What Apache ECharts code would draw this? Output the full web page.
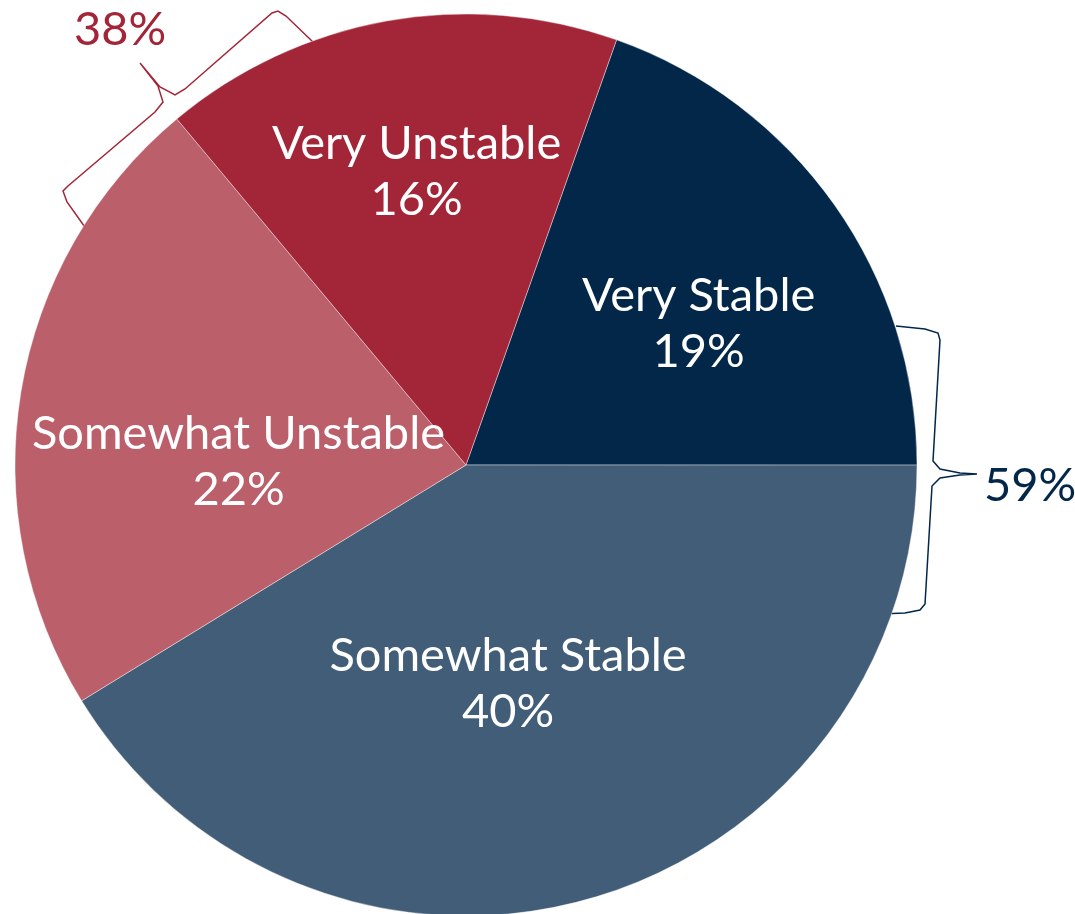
<!DOCTYPE html>
<html>
<head>
<meta charset="utf-8">
<script src="https://cdn.jsdelivr.net/npm/echarts@6/dist/echarts.min.js"></script>
<style>
  html, body { margin: 0; padding: 0; background: #fff; }
  #chart { width: 1075px; height: 914px; }
</style>
</head>
<body>
<div id="chart"></div>
<script>
// slice data (clockwise from the top-right)
const categories = ['Very Stable', 'Somewhat Stable', 'Somewhat Unstable', 'Very Unstable'];
const values = [19, 40, 22, 16];
const groupLabels = ['59%', '38%'];

const colors = ['#022749', '#425D78', '#BB5F6B', '#A22538'];
// nudges so the labels sit where the original put them
const labelShift = [[46, -9], [-20, -1], [-2, 34], [-9, -68]];

const FONT = 'Lato';
const FONT_SIZE = 47;

const myChart = echarts.init(document.getElementById('chart'));

const option = {
    animation: false,
    series: [
        {
            type: 'pie',
            center: [466, 465],
            radius: 451,
            startAngle: 70.5,
            clockwise: true,
            data: categories.map((name, i) => ({
                name: name,
                value: values[i],
                itemStyle: { color: colors[i] }
            })),
            itemStyle: {
                borderColor: '#ffffff',
                borderWidth: 0.4
            },
            label: {
                position: 'inside',
                formatter: '{b}\n{c}%',
                color: '#ffffff',
                fontFamily: FONT,
                fontSize: FONT_SIZE,
                lineHeight: 56
            },
            labelLine: { show: false },
            labelLayout: function (params) {
                const s = labelShift[params.dataIndex];
                return { dx: s[0], dy: s[1] };
            },
            emphasis: { disabled: true }
        }
    ],
    graphic: [
        {
            type: 'polyline',
            shape: {
                points: [[896, 326], [925, 329], [938, 333], [940, 340], [933, 461],
                         [940, 469], [960, 473], [977, 474], [960, 475], [940, 478],
                         [932, 486], [925, 604], [920, 610], [905, 613], [880, 614]]
            },
            style: { stroke: '#022749', lineWidth: 1.5, fill: null }
        },
        {
            type: 'polyline',
            shape: {
                points: [[87, 230], [67, 202], [63, 191], [68, 186], [155, 112],
                         [163, 102], [158, 86], [140, 63], [160, 87], [175, 95],
                         [185, 89], [272, 13], [278, 11], [286, 16], [313, 42]]
            },
            style: { stroke: '#A22538', lineWidth: 1.5, fill: null }
        },
        {
            type: 'text',
            x: 1030, y: 486,
            style: {
                text: groupLabels[0],
                fill: '#022749',
                font: FONT_SIZE + 'px ' + FONT,
                textAlign: 'center',
                textVerticalAlign: 'middle'
            }
        },
        {
            type: 'text',
            x: 120, y: 30,
            style: {
                text: groupLabels[1],
                fill: '#A22538',
                font: FONT_SIZE + 'px ' + FONT,
                textAlign: 'center',
                textVerticalAlign: 'middle'
            }
        }
    ]
};

myChart.setOption(option);
</script>
</body>
</html>
